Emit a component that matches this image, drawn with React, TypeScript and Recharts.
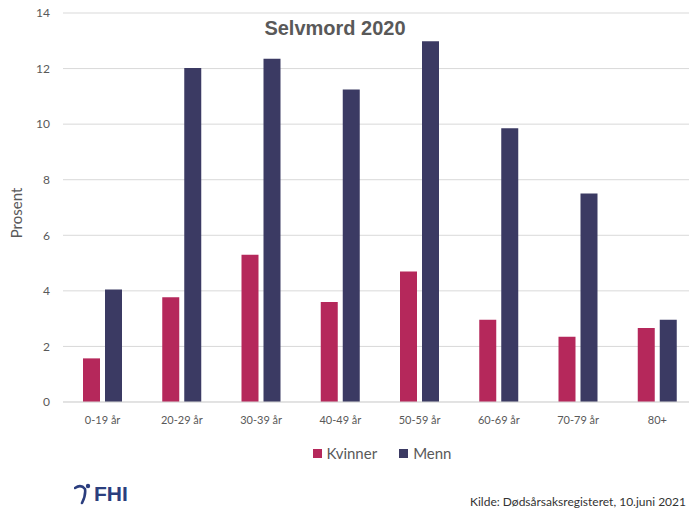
import { BarChart, Bar, XAxis, YAxis, CartesianGrid, Legend, Label } from "recharts";

const ageGroups = ["0-19 år", "20-29 år", "30-39 år", "40-49 år", "50-59 år", "60-69 år", "70-79 år", "80+"];
const kvinner = [1.57, 3.77, 5.3, 3.6, 4.7, 2.96, 2.35, 2.66];
const menn = [4.05, 12.02, 12.35, 11.25, 12.98, 9.85, 7.5, 2.96];
const yTicks = [0, 2, 4, 6, 8, 10, 12, 14];

const data = ageGroups.map((age, i) => ({ age, Kvinner: kvinner[i], Menn: menn[i] }));

const FONT = "Lato, 'Open Sans', sans-serif";
const KV_COLOR = "#B5285B";
const ME_COLOR = "#3B3A63";

function LegendBox() {
  const items = [
    { name: "Kvinner", color: KV_COLOR },
    { name: "Menn", color: ME_COLOR },
  ];
  return (
    <div style={{ display: "flex", justifyContent: "center", gap: 22, fontFamily: FONT, fontSize: 15, color: "#595959" }}>
      {items.map((it) => (
        <div key={it.name} style={{ display: "flex", alignItems: "center" }}>
          <span style={{ display: "inline-block", width: 9, height: 9, background: it.color, marginRight: 5 }} />
          {it.name}
        </div>
      ))}
    </div>
  );
}

export default function App() {
  return (
    <div style={{ position: "absolute", left: 0, top: 0, width: 689, height: 510, overflow: "hidden", background: "#fff" }}>
      <BarChart
        width={697}
        height={510}
        data={data}
        margin={{ top: 13, right: 0, left: 0, bottom: 78 }}
        barSize={17}
        barGap={5}
      >
        <CartesianGrid vertical={false} stroke="#d9d9d9" />
        <XAxis
          dataKey="age"
          height={30}
          tickLine={false}
          axisLine={{ stroke: "#d9d9d9" }}
          tick={{ fill: "#595959", fontSize: 11, fontFamily: FONT }}
          tickMargin={8}
        />
        <YAxis
          width={63}
          domain={[0, 14]}
          ticks={yTicks}
          axisLine={false}
          tickLine={false}
          tickSize={0}
          tickMargin={13}
          tick={{ fill: "#595959", fontSize: 12, fontFamily: FONT }}
        >
          <Label
            content={() => (
              <text x={22} y={213} transform="rotate(-90 22 213)" textAnchor="middle" fill="#595959" fontSize={15} fontFamily={FONT}>
                Prosent
              </text>
            )}
          />
        </YAxis>
        <Legend
          verticalAlign="middle"
          wrapperStyle={{ top: 444, left: 72, width: 620 }}
          content={() => <LegendBox />}
        />
        <Bar dataKey="Kvinner" fill={KV_COLOR} isAnimationActive={false} />
        <Bar dataKey="Menn" fill={ME_COLOR} isAnimationActive={false} />
      </BarChart>
      <div
        style={{
          position: "absolute",
          left: 0,
          width: 670,
          top: 17,
          textAlign: "center",
          fontFamily: "'Liberation Sans', Arial, sans-serif",
          fontWeight: "bold",
          fontSize: 20,
          color: "#595959",
        }}
      >
        Selvmord 2020
      </div>
      <div style={{ position: "absolute", left: 74, top: 482, display: "flex", alignItems: "center" }}>
        <svg width={18} height={22} viewBox="0 0 18 22">
          <path d="M1 5 Q7 1 11 6 Q12 12 8 20" stroke="#2B3E7E" strokeWidth={2.6} fill="none" strokeLinecap="round" />
          <circle cx={14} cy={3} r={2.2} fill="#2B3E7E" />
        </svg>
        <span style={{ fontFamily: "'Liberation Sans', Arial, sans-serif", fontWeight: "bold", fontSize: 21, color: "#2B3E7E", marginLeft: 2 }}>
          FHI
        </span>
      </div>
      <div
        style={{
          position: "absolute",
          left: 470,
          top: 494,
          fontFamily: FONT,
          fontSize: 12,
          color: "#333",
        }}
      >
        Kilde: Dødsårsaksregisteret, 10.juni 2021
      </div>
    </div>
  );
}
